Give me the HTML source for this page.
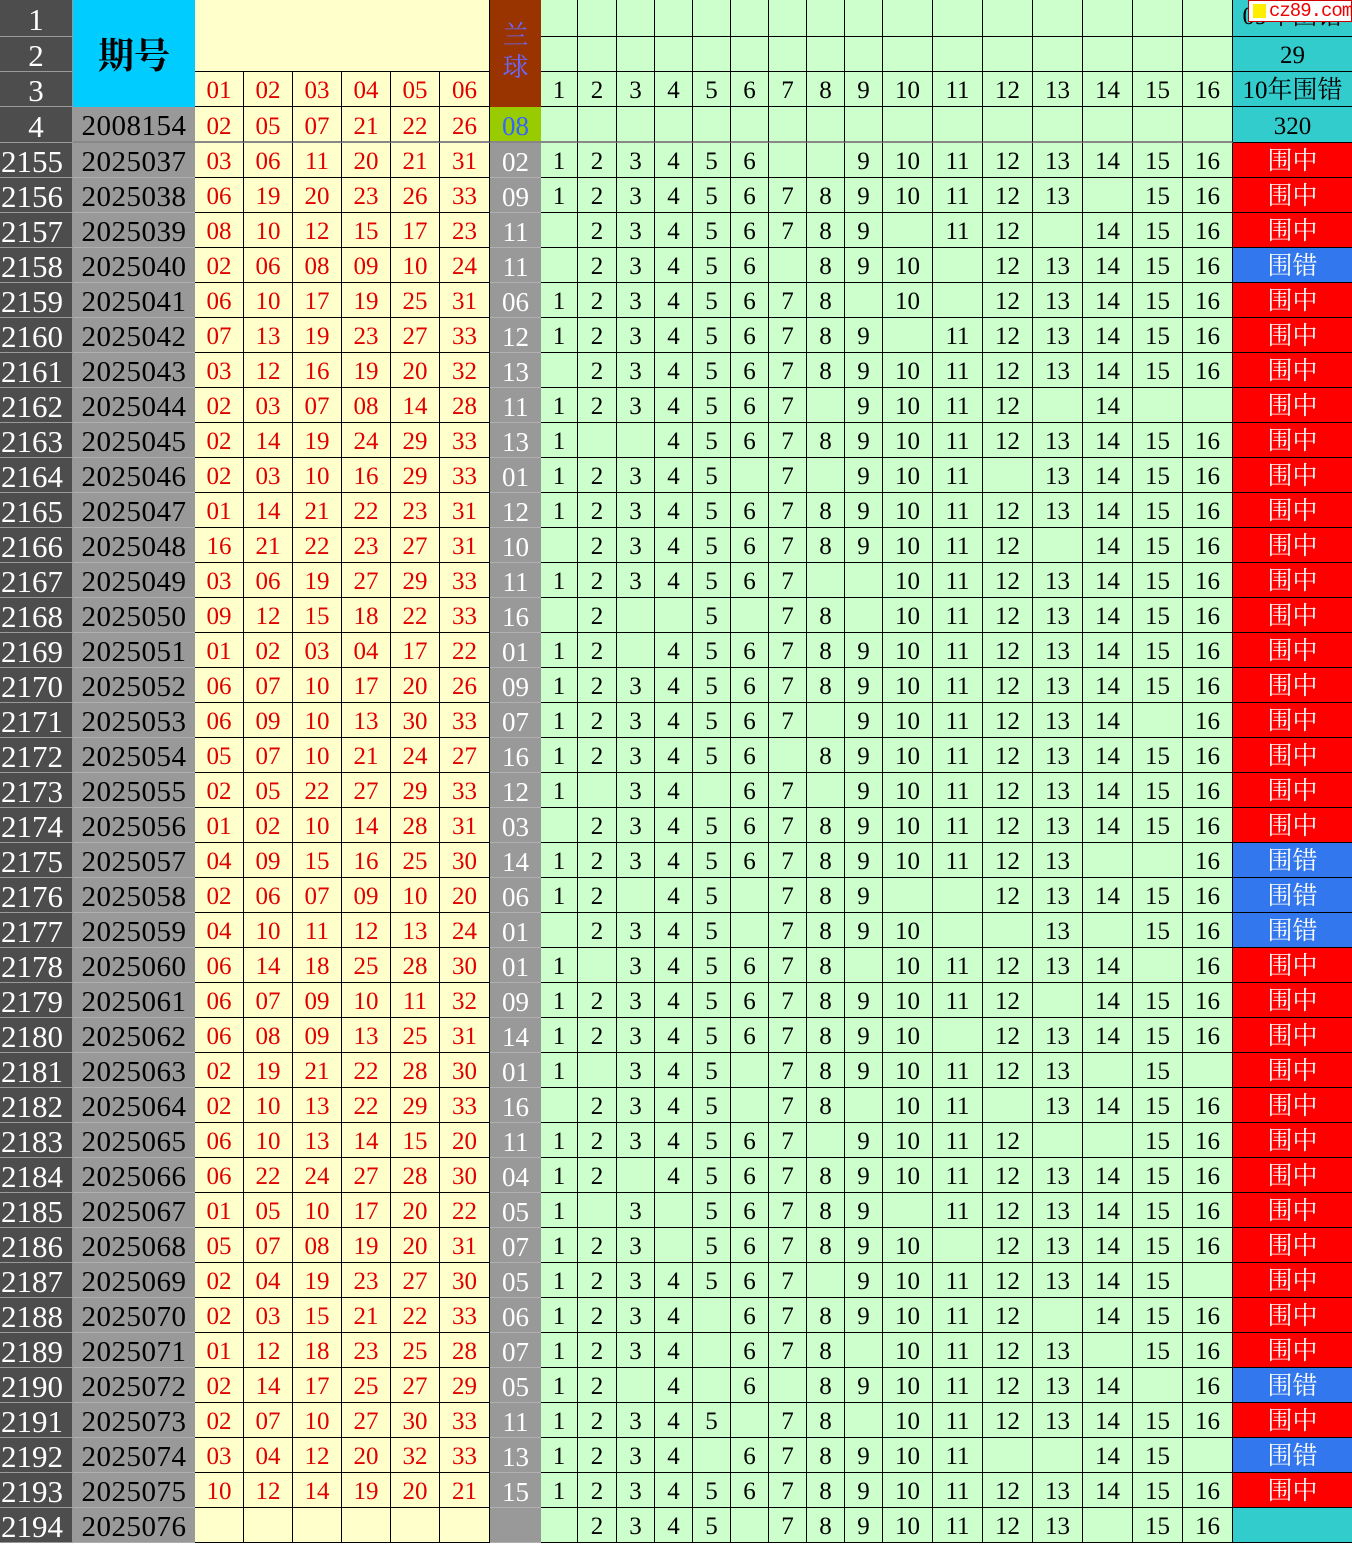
<!DOCTYPE html>
<html><head><meta charset="utf-8">
<style>
body{margin:0;width:1352px;height:1544px;overflow:hidden;background:#fff;position:relative;font-family:"Liberation Serif","Noto Serif CJK SC",serif}
.c{position:absolute;box-sizing:border-box;text-align:center;white-space:nowrap;overflow:hidden}
</style></head><body>
<div id="t"></div>
<script>
var X=[0,73,195,244,293,342,391,440,490,541,578,617,655,693,731,769,807,845,883,933,983,1033,1083,1133,1183,1233,1352];
var root=document.body;
function cell(x,y,w,h,bg,txt,col,fs,extra){var d=document.createElement('div');d.className='c';
d.style.cssText='left:'+x+'px;top:'+y+'px;width:'+w+'px;height:'+h+'px;background:'+bg+';color:'+col+';font-size:'+fs+'px;line-height:'+(h+3)+'px;'+(extra||'');
d.textContent=txt;root.appendChild(d);return d;}
var B='border-right:1px solid #000;border-bottom:1px solid #000;';
var HY=[0,37,72,107,143];
for(var r=0;r<4;r++){cell(0,HY[r],73,HY[r+1]-HY[r],'#4d4d4d',String(r+1),'#fff',31,'border-bottom:1px solid #999;border-right:1px solid #999;');}
cell(73,0,122,107,'#00ccff','期号','#000',36,'line-height:112px;font-weight:bold;');
cell(73,107,122,36,'#999999','2008154','#000',29,'letter-spacing:0.5px;border-bottom:2px solid #888;');
cell(195,0,295,72,'#ffffcc','','#000',20,'border-bottom:1px solid #000;border-right:1px solid #000;');
var h3=['01','02','03','04','05','06'],h4=['02','05','07','21','22','26'];
for(var i=0;i<6;i++){cell(X[2+i],72,X[3+i]-X[2+i],35,'#ffffcc',h3[i],'#e00000',25,B);cell(X[2+i],107,X[3+i]-X[2+i],36,'#ffffcc',h4[i],'#e00000',25,B+'border-bottom:2px solid #888;');}
var q=cell(490,0,51,107,'#993300','','#6a6aff',26,'line-height:32px;white-space:normal;padding-top:20px;');q.innerHTML='兰<br>球';
cell(490,107,51,36,'#99cc00','08','#3366ff',27,'border-bottom:2px solid #888;');
for(var r=0;r<4;r++)for(var k=0;k<16;k++){var x=X[9+k],w=X[10+k]-x;cell(x,HY[r],w,HY[r+1]-HY[r],'#ccffcc',r==2?String(k+1):'','#000',25,B+(r==3?'border-bottom:2px solid #888;':''));}
var tl=['09年围错','29','10年围错','320'];
for(var r=0;r<4;r++)cell(1233,HY[r],119,HY[r+1]-HY[r],'#33cccc',tl[r],'#000',25,'border-bottom:1px solid #000;'+(r==0?'line-height:34px;':''));
function rng(s){var o={};s.split(',').forEach(function(p){var a=p.split('-');var lo=+a[0],hi=+(a[1]||a[0]);for(var i=lo;i<=hi;i++)o[i]=1;});return o;}
var D=[
["2025037","03 06 11 20 21 31","02","1-6,9-16",1],
["2025038","06 19 20 23 26 33","09","1-13,15,16",1],
["2025039","08 10 12 15 17 23","11","2-9,11,12,14,15,16",1],
["2025040","02 06 08 09 10 24","11","2-6,8,9,10,12-16",0],
["2025041","06 10 17 19 25 31","06","1-8,10,12-16",1],
["2025042","07 13 19 23 27 33","12","1-9,11-16",1],
["2025043","03 12 16 19 20 32","13","2-16",1],
["2025044","02 03 07 08 14 28","11","1-7,9-12,14",1],
["2025045","02 14 19 24 29 33","13","1,4-16",1],
["2025046","02 03 10 16 29 33","01","1-5,7,9,10,11,13-16",1],
["2025047","01 14 21 22 23 31","12","1-16",1],
["2025048","16 21 22 23 27 31","10","2-12,14,15,16",1],
["2025049","03 06 19 27 29 33","11","1-7,10-16",1],
["2025050","09 12 15 18 22 33","16","2,5,7,8,10-16",1],
["2025051","01 02 03 04 17 22","01","1,2,4-16",1],
["2025052","06 07 10 17 20 26","09","1-16",1],
["2025053","06 09 10 13 30 33","07","1-7,9-14,16",1],
["2025054","05 07 10 21 24 27","16","1-6,8-16",1],
["2025055","02 05 22 27 29 33","12","1,3,4,6,7,9-16",1],
["2025056","01 02 10 14 28 31","03","2-16",1],
["2025057","04 09 15 16 25 30","14","1-13,16",0],
["2025058","02 06 07 09 10 20","06","1,2,4,5,7,8,9,12-16",0],
["2025059","04 10 11 12 13 24","01","2,3,4,5,7,8,9,10,13,15,16",0],
["2025060","06 14 18 25 28 30","01","1,3-8,10-14,16",1],
["2025061","06 07 09 10 11 32","09","1-12,14,15,16",1],
["2025062","06 08 09 13 25 31","14","1-10,12-16",1],
["2025063","02 19 21 22 28 30","01","1,3,4,5,7-13,15",1],
["2025064","02 10 13 22 29 33","16","2,3,4,5,7,8,10,11,13-16",1],
["2025065","06 10 13 14 15 20","11","1-7,9-12,15,16",1],
["2025066","06 22 24 27 28 30","04","1,2,4-16",1],
["2025067","01 05 10 17 20 22","05","1,3,5-9,11-16",1],
["2025068","05 07 08 19 20 31","07","1,2,3,5-10,12-16",1],
["2025069","02 04 19 23 27 30","05","1-7,9-15",1],
["2025070","02 03 15 21 22 33","06","1-4,6-12,14,15,16",1],
["2025071","01 12 18 23 25 28","07","1-4,6,7,8,10-13,15,16",1],
["2025072","02 14 17 25 27 29","05","1,2,4,6,8-14,16",0],
["2025073","02 07 10 27 30 33","11","1-5,7,8,10-16",1],
["2025074","03 04 12 20 32 33","13","1-4,6-11,14,15",0],
["2025075","10 12 14 19 20 21","15","1-16",1],
["2025076","","","2,3,4,5,7,8,9,10,11,12,13,15,16",2]];
for(var i=0;i<D.length;i++){var y=143+35*i,h=35,d=D[i];
cell(0,y,73,h,'#4d4d4d',String(2155+i),'#fff',31,'text-align:left;padding-left:1px;border-bottom:1px solid #999;border-right:1px solid #999;');
cell(73,y,122,h,'#999999',d[0],'#000',29,'letter-spacing:0.5px;border-bottom:1px solid #b0b0b0;');
var rs=d[1]?d[1].split(' '):['','','','','',''];
for(var k=0;k<6;k++)cell(X[2+k],y,X[3+k]-X[2+k],h,'#ffffcc',rs[k],'#e00000',25,B);
cell(490,y,51,h,'#999999',d[2],'#fff',27,'border-bottom:1px solid #b0b0b0;');
var s=rng(d[3]);
for(var k=0;k<16;k++){var x=X[9+k];cell(x,y,X[10+k]-x,h,'#ccffcc',s[k+1]?String(k+1):'','#000',25,B);}
var bg=d[4]==1?'#ff0000':d[4]==0?'#3377ee':'#33cccc';
cell(1233,y,119,h,bg,d[4]==1?'围中':d[4]==0?'围错':'','#fff',25,'border-bottom:1px solid #000;');}
var w=document.createElement('div');w.className='c';
w.style.cssText='left:1248px;top:0px;width:104px;height:22px;background:#fff;border:1px solid #c00;color:#e00;font-size:19px;line-height:20px;font-family:"Liberation Mono",monospace;text-align:left;padding-left:20px;letter-spacing:-1px;';
w.textContent='cz89.com';root.appendChild(w);
var sq=document.createElement('div');sq.style.cssText='position:absolute;left:1253px;top:4px;width:13px;height:14px;background:#ffee00;';root.appendChild(sq);
</script>
</body></html>
